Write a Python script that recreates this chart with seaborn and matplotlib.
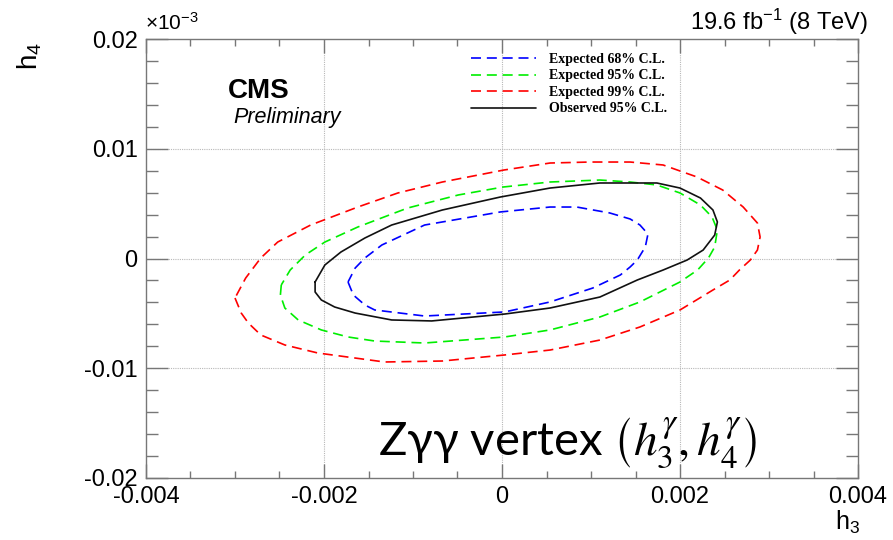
import numpy as np
import pandas as pd
import matplotlib
matplotlib.use("Agg")
import matplotlib.pyplot as plt
from matplotlib import font_manager
from matplotlib.ticker import FixedLocator, FixedFormatter, MultipleLocator
from matplotlib.lines import Line2D
import seaborn as sns

# ---------------- data ----------------
RED_H3 = [-0.00300, -0.00293, -0.00285, -0.00271, -0.00244, -0.00207, -0.00132, -0.00067, 0.00003, 0.00054,
          0.00110, 0.00155, 0.00200, 0.00237, 0.00256, 0.00267, 0.00279, 0.00287, 0.00290, 0.00287,
          0.00271, 0.00248, 0.00219, 0.00181, 0.00144, 0.00099, 0.00054, 0.00002, -0.00067, -0.00117,
          -0.00162, -0.00215, -0.00252, -0.00271, -0.00288]
RED_H4 = [-0.00360, -0.00497, -0.00588, -0.00697, -0.00788, -0.00861, -0.00943, -0.00934, -0.00879, -0.00834,
          -0.00743, -0.00624, -0.00469, -0.00287, -0.00196, -0.00103, -0.00014, 0.00077, 0.00196, 0.00323,
          0.00469, 0.00624, 0.00743, 0.00852, 0.00879, 0.00879, 0.00870, 0.00806, 0.00697, 0.00597,
          0.00469, 0.00305, 0.00150, 0.00005, -0.00178]

GREEN_H3 = [-0.00248, -0.00249, -0.00244, -0.00229, -0.00203, -0.00173, -0.00143, -0.00087, 0.00003, 0.00054,
            0.00110, 0.00155, 0.00200, 0.00220, 0.00232, 0.00239, 0.00242, 0.00236, 0.00223, 0.00200,
            0.00174, 0.00144, 0.00110, 0.00054, 0.00001, -0.00049, -0.00106, -0.00162, -0.00199, -0.00221,
            -0.00238]
GREEN_H4 = [-0.00241, -0.00333, -0.00451, -0.00560, -0.00651, -0.00715, -0.00752, -0.00770, -0.00715, -0.00651,
            -0.00533, -0.00396, -0.00214, -0.00103, 0.00005, 0.00105, 0.00260, 0.00378, 0.00487, 0.00597,
            0.00670, 0.00697, 0.00715, 0.00697, 0.00651, 0.00579, 0.00460, 0.00287, 0.00150, 0.00032,
            -0.00105]

BLACK_H3 = [-0.00210, -0.00210, -0.00203, -0.00188, -0.00165, -0.00124, -0.00079, 0.00003, 0.00054, 0.00110,
            0.00152, 0.00181, 0.00208, 0.00226, 0.00239, 0.00242, 0.00237, 0.00223, 0.00200, 0.00174,
            0.00144, 0.00110, 0.00054, -0.00002, -0.00067, -0.00124, -0.00154, -0.00181, -0.00199]
BLACK_H4 = [-0.00214, -0.00305, -0.00378, -0.00442, -0.00497, -0.00560, -0.00569, -0.00506, -0.00451, -0.00351,
            -0.00196, -0.00105, -0.00014, 0.00077, 0.00214, 0.00333, 0.00442, 0.00551, 0.00642, 0.00688,
            0.00688, 0.00688, 0.00642, 0.00560, 0.00442, 0.00305, 0.00187, 0.00059, -0.00059]

BLUE_H3 = [-0.00173, -0.00167, -0.00154, -0.00143, -0.00087, 0.00003, 0.00054, 0.00102, 0.00133, 0.00144,
           0.00152, 0.00161, 0.00164, 0.00155, 0.00144, 0.00121, 0.00084, 0.00054, -0.00002, -0.00087,
           -0.00135, -0.00154, -0.00165]
BLUE_H4 = [-0.00214, -0.00333, -0.00424, -0.00469, -0.00524, -0.00487, -0.00396, -0.00269, -0.00150, -0.00077,
           -0.00014, 0.00105, 0.00223, 0.00305, 0.00360, 0.00415, 0.00469, 0.00469, 0.00424, 0.00305,
           0.00123, 0.00005, -0.00087]

SERIES_LABELS = ["Expected 68% C.L.", "Expected 95% C.L.", "Expected 99% C.L.", "Observed 95% C.L."]
X_TICKS = [-0.004, -0.002, 0.0, 0.002, 0.004]
X_TICK_LABELS = ["-0.004", "-0.002", "0", "0.002", "0.004"]
Y_TICKS = [-0.02, -0.01, 0.0, 0.01, 0.02]
Y_TICK_LABELS = ["-0.02", "-0.01", "0", "0.01", "0.02"]

# ---------------- style ----------------
sns.set_theme(style="white")
names = {f.name for f in font_manager.fontManager.ttflist}
SANS = "Liberation Sans" if "Liberation Sans" in names else "DejaVu Sans"
NARROW = "Liberation Sans Narrow" if "Liberation Sans Narrow" in names else SANS
plt.rcParams["font.family"] = [SANS, "DejaVu Sans"]
plt.rcParams["text.color"] = "black"
plt.rcParams["mathtext.fontset"] = "custom"
plt.rcParams["mathtext.rm"] = SANS
plt.rcParams["mathtext.it"] = SANS + ":italic"
plt.rcParams["mathtext.bf"] = SANS + ":bold"

W, H = 893, 540
fig = plt.figure(figsize=(W / 100, H / 100), dpi=100)
fig.patch.set_facecolor("white")
ax = fig.add_axes([146 / W, 62 / H, 712 / W, 439 / H])
ax.set_facecolor("white")

DASH = (6, 3.5)
contours = [
    (BLUE_H3, BLUE_H4, "#0000ff", DASH),
    (GREEN_H3, GREEN_H4, "#00ee00", DASH),
    (RED_H3, RED_H4, "#ff0000", DASH),
    (BLACK_H3, BLACK_H4, "#111111", None),
]

for label, (hx, hy, col, dash) in zip(SERIES_LABELS, contours):
    xs = list(hx) + [hx[0]]
    ys = list(hy) + [hy[0]]
    df = pd.DataFrame({"h3": xs, "h4": ys})
    sns.lineplot(data=df, x="h3", y="h4", sort=False, estimator=None, color=col,
                 lw=1.2, ax=ax, legend=False)
    line = ax.get_lines()[-1]
    line.set_solid_joinstyle("round")
    if dash is not None:
        line.set_dashes(dash)

ax.set_xlim(X_TICKS[0], X_TICKS[-1])
ax.set_ylim(Y_TICKS[0], Y_TICKS[-1])
ax.set_xlabel("")
ax.set_ylabel("")

# grid at major ticks (dotted)
for gx in X_TICKS[1:-1]:
    ax.axvline(gx, color="#b8b8b8", lw=0.8, ls=(0, (1, 1)), zorder=0)
for gy in Y_TICKS[1:-1]:
    ax.axhline(gy, color="#b8b8b8", lw=0.8, ls=(0, (1, 1)), zorder=0)

ax.xaxis.set_major_locator(FixedLocator(X_TICKS))
ax.xaxis.set_major_formatter(FixedFormatter(X_TICK_LABELS))
ax.yaxis.set_major_locator(FixedLocator(Y_TICKS))
ax.yaxis.set_major_formatter(FixedFormatter(Y_TICK_LABELS))
ax.xaxis.set_minor_locator(MultipleLocator(0.0005))
ax.yaxis.set_minor_locator(MultipleLocator(0.002))

tick_col = "#777777"
ax.tick_params(axis="both", which="both", direction="in", top=True, right=True,
               bottom=True, left=True, labeltop=False, labelright=False,
               color=tick_col, width=1.0, labelcolor="black")
ax.tick_params(axis="x", which="major", length=10, pad=6, labelsize=17)
ax.tick_params(axis="x", which="minor", length=5)
ax.tick_params(axis="y", which="major", length=16, pad=6, labelsize=17)
ax.tick_params(axis="y", which="minor", length=8.5)
for lab in ax.get_xticklabels():
    lab.set_fontfamily(NARROW)
for sp in ax.spines.values():
    sp.set_color(tick_col)
    sp.set_linewidth(1.0)

# legend
handles = []
for label, (hx, hy, col, dash) in zip(SERIES_LABELS, contours):
    h = Line2D([0], [0], color=col, lw=1.2)
    if dash is not None:
        h.set_dashes(dash)
    handles.append(h)
leg = ax.legend(handles, SERIES_LABELS, loc="upper left",
                bbox_to_anchor=(471 / W, 1 - 53 / H), bbox_transform=fig.transFigure,
                frameon=False, borderpad=0, borderaxespad=0, handlelength=4.7,
                handletextpad=0.95, labelspacing=0.25,
                prop={"family": "Liberation Serif", "weight": "bold", "size": 10})
for t in leg.get_texts():
    t.set_color("black")

# texts
def ftext(x, y, s, **kw):
    return fig.text(x / W, 1 - y / H, s, color="black", **kw)

ftext(30, 56, r"h$_{4}$", rotation=90, ha="center", va="center", fontsize=20)
ftext(848, 522, r"h$_{3}$", ha="center", va="center", fontsize=18, family=NARROW)
ftext(145, 23, r"$\times$10$^{-3}$", ha="left", va="center", fontsize=15)
ftext(868, 22, r"19.6 fb$^{-1}$ (8 TeV)", ha="right", va="center", fontsize=17)
ftext(228, 91, "CMS", ha="left", va="center", fontsize=20, weight="bold")
ftext(233, 117, "Preliminary", ha="left", va="center", fontsize=15.5, style="italic")
ftext(567, 443, r"Zγγ vertex $\left(h_3^{\gamma}, h_4^{\gamma}\right)$", ha="center", va="center",
      fontsize=34, family=["Lato", "Open Sans", "DejaVu Sans"], math_fontfamily="stix")

fig.savefig("out.png", dpi=100, facecolor="white")
